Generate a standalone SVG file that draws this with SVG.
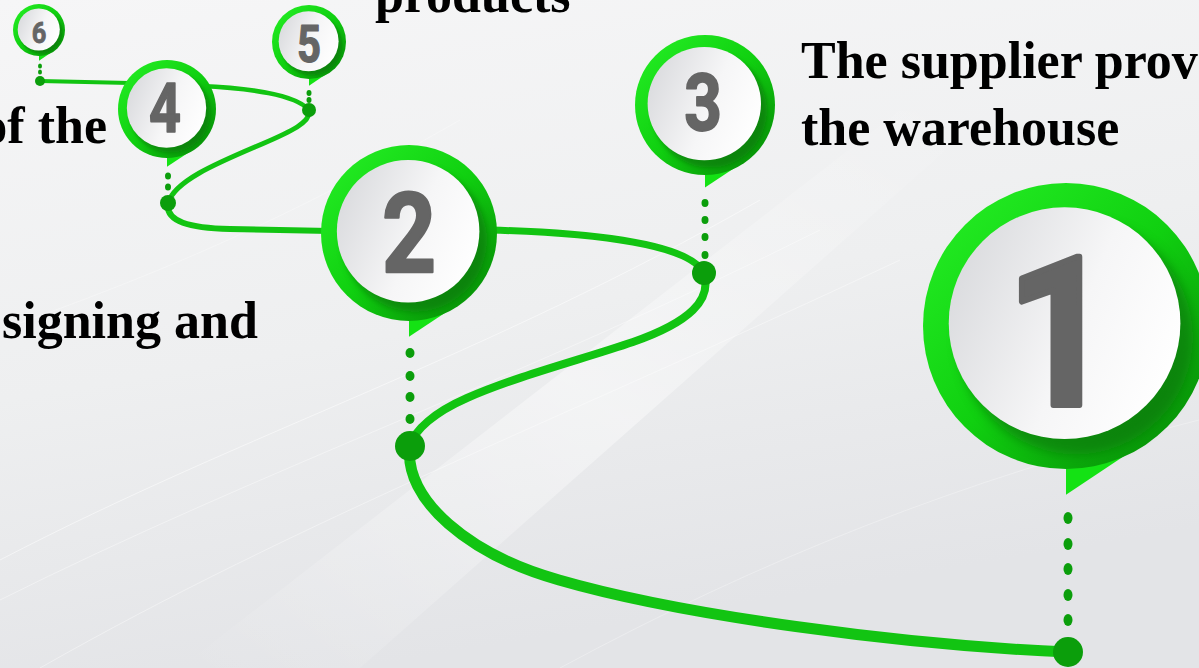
<svg xmlns="http://www.w3.org/2000/svg" xmlns:xlink="http://www.w3.org/1999/xlink" width="1199" height="668" viewBox="0 0 1199 668">
<defs>
<style>
.lbl{font-family:"Liberation Serif","Times New Roman",serif;font-weight:bold;font-size:52px;fill:#000}
.num{font-family:Roboto,"DejaVu Sans",sans-serif;font-weight:700;fill:#656565;stroke:#656565;stroke-linejoin:round;text-anchor:middle}
.road{fill:none;stroke:#12c412;stroke-linecap:round}
.dot{fill:#0b9e0b}
.streak{fill:none;stroke:#ffffff;stroke-width:1}
</style>
<linearGradient id="bg" x1="0" y1="0" x2="0.3" y2="1">
<stop offset="0" stop-color="#f6f6f7"/>
<stop offset="0.55" stop-color="#eeeff0"/>
<stop offset="1" stop-color="#e3e4e7"/>
</linearGradient>
<linearGradient id="glow" x1="0" y1="1" x2="1" y2="0">
<stop offset="0" stop-color="#ffffff" stop-opacity="0"/>
<stop offset="0.5" stop-color="#ffffff" stop-opacity="0.6"/>
<stop offset="1" stop-color="#ffffff" stop-opacity="0"/>
</linearGradient>
<linearGradient id="ring" x1="0.1" y1="0.1" x2="0.9" y2="0.9">
<stop offset="0" stop-color="#22ea22"/>
<stop offset="0.5" stop-color="#10d010"/>
<stop offset="1" stop-color="#089208"/>
</linearGradient>
<linearGradient id="face" x1="0" y1="0.3" x2="1" y2="0.7">
<stop offset="0" stop-color="#dadbde"/>
<stop offset="0.55" stop-color="#f6f6f7"/>
<stop offset="1" stop-color="#ffffff"/>
</linearGradient>
<linearGradient id="roadg" x1="0" y1="0" x2="1" y2="0">
<stop offset="0" stop-color="#12c012"/>
<stop offset="1" stop-color="#0a9c0a"/>
</linearGradient>
<filter id="blur" x="-20%" y="-20%" width="140%" height="140%">
<feGaussianBlur stdDeviation="0.04"/>
</filter>
<g id="pin">
<polygon points="0,0.8 0.48,0.86 0,1.18" fill="#14e214"/>
<circle r="1" fill="url(#ring)"/>
<circle cx="0.07" cy="0.08" r="0.82" fill="#076f07" opacity="0.6" filter="url(#blur)"/>
<circle cx="-0.01" cy="-0.02" r="0.81" fill="url(#face)"/>
</g>
</defs>

<rect width="1199" height="668" fill="url(#bg)"/>
<g id="background">
<polygon points="180,668 360,668 980,120 900,110" fill="url(#glow)" opacity="0.7"/>
<path class="streak" opacity="0.5" d="M0,560 C250,430 480,360 760,200"/>
<path class="streak" opacity="0.4" d="M0,600 C260,470 520,380 820,230"/>
<path class="streak" opacity="0.4" d="M40,668 C300,520 560,420 900,260"/>
<path class="streak" opacity="0.3" d="M0,330 C200,260 320,200 460,120"/>
<path class="streak" opacity="0.3" d="M560,668 C760,560 960,480 1199,420"/>
</g>

<g id="connectors">
<path class="road" stroke-width="4" d="M40,81 L130,83"/>
<path class="road" stroke-width="4.5" d="M200,86 C250,88 296,95 309,110"/>
<path class="road" stroke-width="5" d="M309,110 C312,122 290,132 262,144 C220,162 175,180 168,203"/>
<path class="road" stroke-width="6" d="M168,203 C165,222 190,228 230,229 L330,231"/>
<path class="road" stroke-width="7" d="M490,230 C600,233 690,245 704,273"/>
<path class="road" stroke-width="8" d="M704,273 C712,300 690,322 633,342 C580,360 520,375 467,398 C435,412 414,430 410,446"/>
<path class="road" stroke="url(#roadg)" stroke-width="11" d="M410,446 C403,500 470,555 559,580 C680,615 900,645 1068,652"/>
</g>

<g id="node6">
<use href="#pin" transform="translate(39,30) scale(26)"/>
<text class="num" transform="translate(39,43) scale(0.85,1)" font-size="30" stroke-width="0.8">6</text>
<ellipse class="dot" cx="40" cy="66" rx="2" ry="2.5"/>
<ellipse class="dot" cx="40" cy="72" rx="2" ry="2.5"/>
<circle class="dot" cx="40" cy="81" r="5"/>
</g>
<g id="node5">
<use href="#pin" transform="translate(309,42) scale(37)"/>
<text class="num" transform="translate(309,62) scale(0.82,1)" font-size="51" stroke-width="1.2">5</text>
<ellipse class="dot" cx="309" cy="93" rx="2.5" ry="3"/>
<ellipse class="dot" cx="309" cy="100" rx="2.5" ry="3"/>
<circle class="dot" cx="309" cy="110" r="7"/>
</g>
<g id="node4">
<use href="#pin" transform="translate(167,109) scale(49)"/>
<text class="num" transform="translate(165,132) scale(0.82,1)" font-size="68" stroke-width="1.6">4</text>
<ellipse class="dot" cx="168" cy="176" rx="3" ry="3.5"/>
<ellipse class="dot" cx="168" cy="187" rx="3" ry="3.5"/>
<circle class="dot" cx="168" cy="203" r="8"/>
</g>
<g id="node3">
<use href="#pin" transform="translate(705,105) scale(70)"/>
<text class="num" transform="translate(703,130) scale(0.82,1)" font-size="80" stroke-width="2">3</text>
<ellipse class="dot" cx="705" cy="203" rx="3.5" ry="4"/>
<ellipse class="dot" cx="705" cy="220" rx="3.5" ry="4"/>
<ellipse class="dot" cx="705" cy="237" rx="3.5" ry="4"/>
<ellipse class="dot" cx="705" cy="255" rx="3.5" ry="4"/>
<circle class="dot" cx="704" cy="273" r="12"/>
</g>
<g id="node2">
<use href="#pin" transform="translate(409,233) scale(88)"/>
<text class="num" transform="translate(409,272) scale(0.85,1)" font-size="111" stroke-width="2.5">2</text>
<ellipse class="dot" cx="410" cy="353" rx="4.5" ry="5"/>
<ellipse class="dot" cx="410" cy="376" rx="4.5" ry="5"/>
<ellipse class="dot" cx="410" cy="397" rx="4.5" ry="5"/>
<ellipse class="dot" cx="410" cy="419" rx="4.5" ry="5"/>
<circle class="dot" cx="410" cy="446" r="15"/>
</g>
<g id="node1">
<use href="#pin" transform="translate(1066,326) scale(143)"/>
<text class="num" transform="translate(1060,405) scale(0.9,1)" font-size="208" stroke-width="6">1</text>
<ellipse class="dot" cx="1068" cy="518" rx="4.5" ry="6"/>
<ellipse class="dot" cx="1068" cy="544" rx="4.5" ry="6"/>
<ellipse class="dot" cx="1068" cy="569" rx="4.5" ry="6"/>
<ellipse class="dot" cx="1068" cy="595" rx="4.5" ry="6"/>
<ellipse class="dot" cx="1068" cy="620" rx="4.5" ry="6"/>
<circle class="dot" cx="1068" cy="652" r="15"/>
</g>

<g id="labels">
<text class="lbl" x="375" y="12">products</text>
<text class="lbl" x="801" y="78">The supplier prov</text>
<text class="lbl" x="801" y="145">the warehouse</text>
<text class="lbl" x="107" y="143" text-anchor="end">of the</text>
<text class="lbl" x="2" y="338">signing and</text>
</g>
</svg>
